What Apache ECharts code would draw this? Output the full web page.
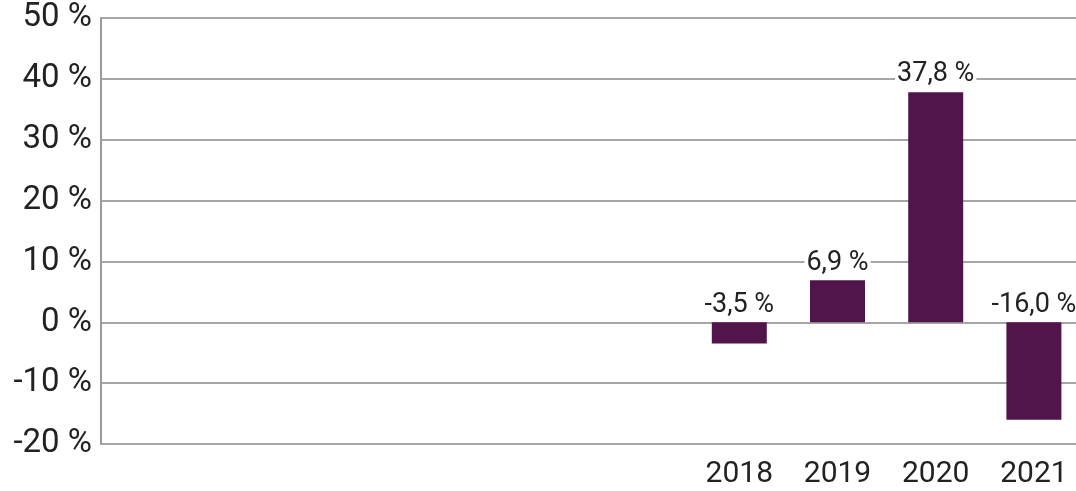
<!DOCTYPE html>
<html>
<head>
<meta charset="utf-8">
<script src="https://cdn.jsdelivr.net/npm/echarts@6/dist/echarts.min.js"></script>
<style>
    html, body { margin: 0; padding: 0; background: #fff; }
    #chart { width: 1076px; height: 491px; }
</style>
</head>
<body>
<div id="chart"></div>
<script>
// categories (first six slots are empty in the original)
const years = ['', '', '', '', '', '', '2018', '2019', '2020', '2021']
const changes = [null, null, null, null, null, null, -3.5, 6.9, 37.8, -16.0]

const yMin = -20
const yMax = 50
const yStep = 10

const fmt = (v) => v.toFixed(1).replace('.', ',') + ' %'

const chart = echarts.init(document.getElementById('chart'))
chart.setOption({
    animation: false,
    textStyle: { fontFamily: 'Roboto' },
    grid: { left: 101, top: 18, width: 982, bottom: 47, containLabel: false, outerBoundsMode: 'none' },
    xAxis: {
        type: 'category',
        data: years,
        axisLine: { show: false },
        axisTick: { show: false },
        axisLabel: { color: '#222', fontSize: 30, margin: 15, interval: 0 },
    },
    yAxis: {
        type: 'value',
        min: yMin,
        max: yMax,
        interval: yStep,
        axisLine: { show: true, lineStyle: { color: '#9a9a9a', width: 2 } },
        axisTick: { show: false },
        axisLabel: { color: '#222', fontSize: 33, margin: 9, formatter: (v) => v + ' %' },
        splitLine: { lineStyle: { color: '#a6a6a6', width: 2 } },
    },
    series: [
        {
            type: 'bar',
            data: changes,
            barWidth: 55,
            itemStyle: { color: '#52154b' },
            label: {
                show: true,
                position: 'top',
                distance: 4,
                color: '#222',
                fontSize: 27,
                backgroundColor: '#fff',
                padding: [0, 2],
                formatter: (p) => fmt(p.value),
            },
        },
    ],
})
</script>
</body>
</html>
